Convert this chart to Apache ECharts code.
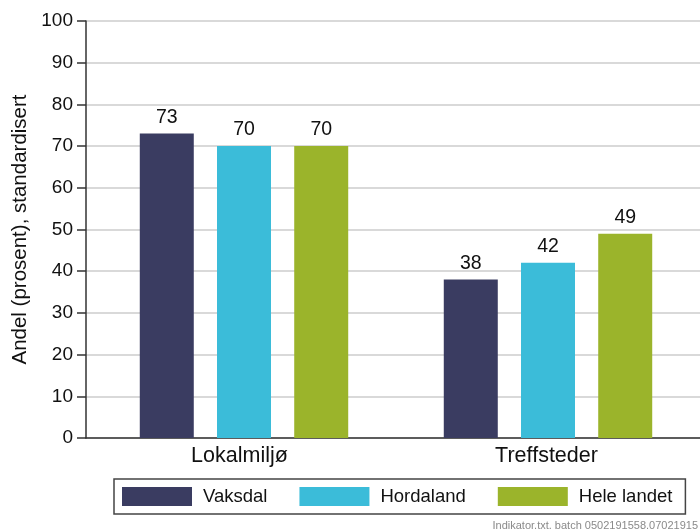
<!DOCTYPE html>
<html>
<head>
<meta charset="utf-8">
<script src="https://cdn.jsdelivr.net/npm/echarts@6/dist/echarts.min.js"></script>
<style>
  html, body { margin: 0; padding: 0; background: #fff; }
  #main { width: 700px; height: 532px; }
</style>
</head>
<body>
<div id="main"></div>
<script>
// data
var categories = ['Lokalmiljø', 'Treffsteder'];
var seriesNames = ['Vaksdal', 'Hordaland', 'Hele landet'];
var vaksdal = [73, 38];
var hordaland = [70, 42];
var heleLandet = [70, 49];
var colors = ['#3a3c61', '#3bbcd9', '#9bb42b'];

var font = "'Liberation Sans', Arial, sans-serif";

function bar(name, data, i) {
  return {
    name: name,
    type: 'bar',
    xAxisIndex: 1,
    yAxisIndex: 1,
    data: data,
    barWidth: 54,
    barGap: '43%',
    itemStyle: { color: colors[i] },
    label: {
      show: true,
      position: 'top',
      distance: 6,
      color: '#111',
      fontSize: 19.5,
      fontFamily: font
    }
  };
}

var chart = echarts.init(document.getElementById('main'));
chart.setOption({
  animation: false,
  textStyle: { fontFamily: font },
  grid: [
    { left: 86, right: 0, top: 21, bottom: 94 },
    { left: 92, right: -2, top: 21, bottom: 94 }  // bars sit slightly right
  ],
  xAxis: [
    {
      gridIndex: 0,
      type: 'category',
      data: categories,
      axisLine: { lineStyle: { color: '#333', width: 1.5 } },
      axisTick: { show: false },
      axisLabel: { color: '#111', fontSize: 21.5, margin: 7 }
    },
    { gridIndex: 1, type: 'category', data: categories, show: false }
  ],
  yAxis: [
    {
      gridIndex: 0,
      type: 'value',
      min: 0,
      max: 100,
      interval: 10,
      name: 'Andel (prosent), standardisert',
      nameLocation: 'middle',
      nameGap: 54,
      nameTextStyle: { color: '#111', fontSize: 20.5 },
      axisLine: { show: true, lineStyle: { color: '#333', width: 1.5 } },
      axisTick: { show: true, length: 9, lineStyle: { color: '#333', width: 1.5 } },
      axisLabel: { color: '#111', fontSize: 19, margin: 13 },
      splitLine: { lineStyle: { color: '#cccccc', width: 1.5 } }
    },
    { gridIndex: 1, type: 'value', min: 0, max: 100, interval: 10, show: false }
  ],
  legend: {
    left: 114,
    top: 479,
    data: seriesNames,
    icon: 'rect',
    itemWidth: 70,
    itemHeight: 19,
    itemGap: 32,
    padding: [8, 13, 8, 8],
    borderColor: '#444',
    borderWidth: 1.5,
    borderRadius: 0,
    textStyle: { color: '#111', fontSize: 18.5, padding: [0, 0, 0, 6] }
  },
  graphic: [{
    type: 'text',
    right: 2,
    bottom: 1,
    style: {
      text: 'Indikator.txt. batch 0502191558.07021915',
      fill: '#8a8a8a',
      font: '11px ' + font
    }
  }],
  series: [
    bar(seriesNames[0], vaksdal, 0),
    bar(seriesNames[1], hordaland, 1),
    bar(seriesNames[2], heleLandet, 2)
  ]
});
</script>
</body>
</html>
